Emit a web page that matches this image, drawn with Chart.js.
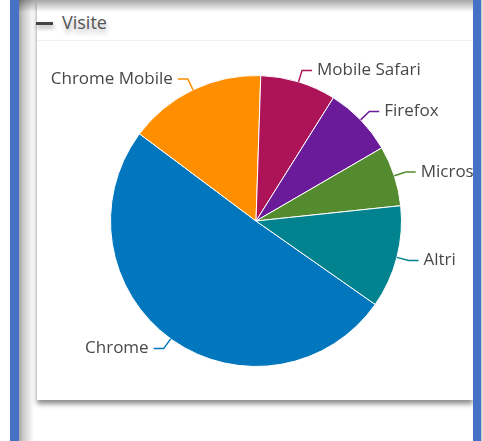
<!DOCTYPE html>
<html>
<head>
<meta charset="utf-8">
<script src="https://cdn.jsdelivr.net/npm/chart.js@4/dist/chart.umd.min.js"></script>
<style>
  html, body { margin: 0; padding: 0; background: #fff; width: 483px; height: 441px; overflow: hidden; font-family: "Open Sans", sans-serif; }
  .abs { position: absolute; }
  #barL { left: 10px; top: 0; width: 9px; height: 441px; background: #4672c6; }
  #barR { left: 473px; top: 0; width: 8px; height: 441px; background: #4672c6; }
  #edgeR { left: 481px; top: 0; width: 2px; height: 441px; background: linear-gradient(to right, #bbb, #eee); }
  #shL { left: 19px; top: 0; width: 15px; height: 441px; background: linear-gradient(to right, rgba(0,0,0,0.34), rgba(0,0,0,0.2) 30%, rgba(0,0,0,0)); }
  #shT { left: 19px; top: 0; width: 454px; height: 12px; background: linear-gradient(to bottom, rgba(0,0,0,0.35), rgba(0,0,0,0)); }
  #card { left: 37px; top: 0; width: 436px; height: 400px; background: #fff; box-shadow: 0 4px 5px rgba(0,0,0,0.45); }
  #meno { left: 36px; top: 22px; width: 17px; height: 3px; background: #444; box-shadow: 1px 3px 4px rgba(0,0,0,0.35); }
  #tit { left: 62px; top: 10px; color: #555; font-size: 18px; text-shadow: 1px 4px 5px rgba(0,0,0,0.3); line-height: 24px; }
  #riga { left: 37px; top: 40px; width: 436px; height: 1px; background: #f0f0f0; }
  #wrap { left: 27px; top: 42px; width: 446px; height: 358px; }
</style>
</head>
<body>
<div class="abs" id="card"></div>
<div class="abs" id="meno"></div>
<div class="abs" id="tit">Visite</div>
<div class="abs" id="riga"></div>
<div class="abs" id="wrap"><canvas id="grafico" width="446" height="358"></canvas></div>
<div class="abs" id="shL"></div>
<div class="abs" id="shT"></div>
<div class="abs" id="barL"></div>
<div class="abs" id="barR"></div>
<div class="abs" id="edgeR"></div>
<script>
const categorie = ['Chrome', 'Chrome Mobile', 'Mobile Safari', 'Firefox', 'Microsoft Edge', 'Altri'];
const visite = [50.5, 15.3, 8.4, 7.7, 6.7, 11.4];
const colori = ['#0277bd', '#ff8f00', '#ad1457', '#6a1b9a', '#558b2f', '#00838f'];

// etichette esterne con connettore
const etichette = {
  id: 'etichette',
  afterDatasetsDraw(chart) {
    const ctx = chart.ctx;
    const meta = chart.getDatasetMeta(0);
    ctx.save();
    ctx.font = '17px "Open Sans"';
    ctx.textBaseline = 'middle';
    meta.data.forEach((arc, i) => {
      const p = arc.getProps(['x', 'y', 'startAngle', 'endAngle', 'outerRadius'], true);
      const a = (p.startAngle + p.endAngle) / 2;
      const r = p.outerRadius;
      const x0 = p.x + Math.cos(a) * r, y0 = p.y + Math.sin(a) * r;
      const x1 = p.x + Math.cos(a) * (r + 12), y1 = p.y + Math.sin(a) * (r + 12);
      const dir = Math.cos(a) >= 0 ? 1 : -1;
      const x2 = x1 + dir * 10;
      ctx.strokeStyle = colori[i];
      ctx.lineWidth = 1.5;
      ctx.beginPath();
      ctx.moveTo(x0, y0);
      ctx.lineTo(x1, y1);
      ctx.lineTo(x2, y1);
      ctx.stroke();
      ctx.fillStyle = '#484848';
      ctx.textAlign = dir > 0 ? 'left' : 'right';
      ctx.fillText(categorie[i], x2 + dir * 5, y1);
    });
    ctx.restore();
  }
};

const graph = new Chart(document.getElementById('grafico').getContext('2d'), {
  type: 'pie',
  data: {
    labels: categorie,
    datasets: [{
      data: visite,
      backgroundColor: colori,
      borderColor: '#fff',
      borderWidth: 1
    }]
  },
  options: {
    responsive: false,
    animation: false,
    rotation: 125,
    layout: { padding: { top: 33, bottom: 33, left: 66, right: 54 } },
    plugins: { legend: { display: false }, tooltip: { enabled: false } }
  },
  plugins: [etichette]
});
</script>
</body>
</html>
